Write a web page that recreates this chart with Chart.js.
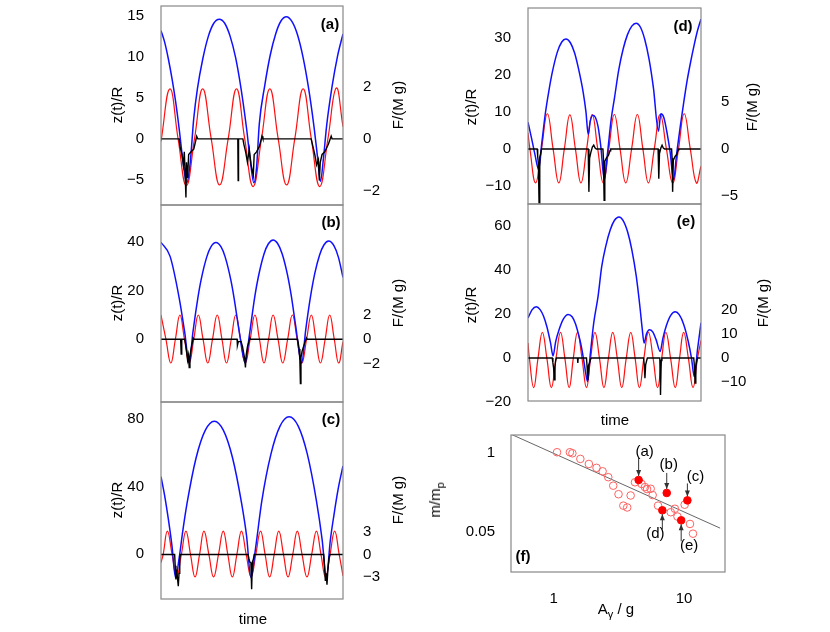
<!DOCTYPE html>
<html><head><meta charset="utf-8">
<script src="https://cdn.jsdelivr.net/npm/chart.js@4/dist/chart.umd.min.js"></script>
<style>
body{margin:0;background:#fff;width:830px;height:632px;overflow:hidden;position:relative;font-family:"Liberation Sans",Arial,sans-serif;}
canvas{position:absolute;}
.lbl{position:absolute;font-size:15px;color:#000;white-space:nowrap;transform:translate(-50%,-50%);}
.rot{transform:translate(-50%,-50%) rotate(-90deg);}
.pl{position:absolute;font-size:15px;font-weight:bold;transform:translate(-50%,-50%);}
</style></head><body>
<script>
// ---------- DATA (x = time in % of window) ----------
const aRed=[[0,-0.3],[4.9,6.1],[9.4,0],[13.9,-5.7],[18.4,0],[22.9,6.1],[27.6,0],[32.2,-5.6],[36.9,0],[41.5,6.1],[46,0],[50.6,-5.8],[55.2,0],[59.8,6.1],[64.4,0],[69,-5.6],[73.5,0],[78.1,6.1],[82.6,0],[87.2,-5.8],[91.7,0],[96.3,6.2],[100,1.5]];
const aBlue=[[0,13.2],[2,11.8],[4,9.8],[6,7.4],[8,4.6],[10,1.2],[12,-2.6],[14.1,-5.35],[16,-3],[18,2.5],[20,6.1],[23,9.8],[26,12.5],[29,14.1],[32,14.6],[35,14.1],[38,12.5],[41,9.9],[44,6.1],[47,1.3],[49,-2.5],[51,-5.35],[52.5,-3.5],[54,1.8],[57,6.5],[60,10.2],[63,12.8],[66,14.4],[68.9,14.9],[72,14.3],[75,12.7],[78,10],[81,6.3],[84,1.6],[86,-2.2],[87.6,-5.2],[89.2,-2.5],[91,1.6],[94,6.4],[97,10.1],[100,12.8]];
const aForce=[[0,0],[10,0],[10.5,-0.3],[11.5,-0.6],[12.3,-1.0],[12.8,-0.5],[13.3,-1.4],[13.7,-2.25],[14,-0.9],[14.6,-1.5],[15.2,-0.6],[16.5,-0.5],[18,-0.4],[19,-0.1],[19.6,0.1],[20.2,0],[42.2,0],[42.4,-1.6],[42.6,0],[45,0],[45.5,-0.2],[46.5,-0.5],[47.5,-0.9],[48.5,-0.4],[49.5,-1.0],[50.7,-1.4],[51.2,-0.6],[52.5,-0.5],[54,-0.3],[55.5,0.1],[56,0],[82.5,0],[83.5,-0.3],[84.5,-0.6],[85.5,-1.0],[86.5,-0.8],[87,-1.6],[87.5,-0.9],[88.5,-0.6],[90,-0.5],[92,-0.2],[93.5,0.1],[94,0],[100,0]];

const bRed=[[0,10],[2.7,0],[5.4,-9.8],[7.9,0],[10.4,10],[12.9,0],[15.5,-9.8],[18,0],[20.5,10],[23.1,0],[25.7,-9.8],[28.3,0],[30.9,10],[33.5,0],[36,-9.8],[38.6,0],[41.1,10],[43.7,0],[46.3,-9.8],[49,0],[51.6,10],[54.1,0],[56.6,-9.8],[59.1,0],[61.6,10],[64.3,0],[66.9,-9.8],[69.6,0],[72.2,10],[74.8,0],[77.4,-9.8],[80,0],[82.6,10],[85.1,0],[87.6,-9.8],[90.2,0],[92.7,10],[95.2,0],[97.6,-9.8],[100,-1]];
const bBlue=[[0,40],[5,34.2],[10,17],[13,3],[15.5,-9.8],[17.5,2.6],[20.2,16.8],[22,24.4],[25.2,34.1],[27.5,38.2],[30.2,39.9],[33,38.1],[35.2,34.1],[38.5,24],[40.2,16.8],[43,3],[46.3,-9.8],[48.5,1.4],[51.6,17.9],[53.5,25.8],[56.6,35.2],[59,39.4],[61.6,41],[64,39.6],[66.6,35.2],[69.5,26.6],[71.6,17.9],[74,5.5],[77.3,-9.8],[79.5,3.8],[82.1,17.4],[84.5,27.2],[87.1,34.7],[89.5,38.9],[92.1,40.5],[95,38.6],[97.5,33.8],[100,25.5]];
const bForce=[[0,0],[10.8,0],[11.1,-1.2],[11.4,0],[13,0],[13.5,-0.4],[14,-0.9],[14.6,-1.7],[15.1,-1.3],[15.5,-2.3],[15.9,-1.4],[16.5,-0.8],[17.2,-0.3],[17.7,0.1],[18.2,0],[41.8,0],[42,-0.5],[42.5,-0.2],[44,-0.2],[44.8,-0.6],[45.5,-1.2],[46,-1.6],[46.4,-2.3],[46.8,-1.3],[47.5,-0.6],[48.3,-0.2],[48.8,0.1],[49.2,0],[75,0],[75.4,-0.3],[75.9,-0.8],[76.3,-1.7],[76.6,-3.6],[76.9,-1.5],[77.5,-1.0],[78.3,-0.6],[79.2,-0.2],[79.9,0.1],[80.3,0],[100,0]];

const cRed=[[0,-4.9],[1.2,0],[3.5,13.7],[6.1,0],[8.6,-13.3],[11.2,0],[13.7,13.7],[16.2,0],[18.7,-13.3],[21.2,0],[23.6,13.7],[26.3,0],[28.9,-13.3],[31.6,0],[34.2,13.7],[36.7,0],[39.2,-13.3],[41.7,0],[44.2,13.7],[46.8,0],[49.5,-13.3],[52.1,0],[54.7,13.7],[57.2,0],[59.7,-13.3],[62.2,0],[64.7,13.7],[67.3,0],[69.8,-13.3],[72.4,0],[74.9,13.7],[77.5,0],[80.2,-13.3],[82.8,0],[85.4,13.7],[87.9,0],[90.4,-13.3],[92.9,0],[95.4,13.7],[97.9,0],[100,-12.7]];
const cBlue=[[0,45.7],[2,34.6],[4,21],[6,5.3],[8,-13.7],[10,-2],[12,14],[14.3,30],[19.3,56.9],[24.3,73],[29.3,78.4],[34.3,73],[39.3,56.9],[44.3,30],[47,11],[49.4,-13.7],[52,4],[55.4,31.5],[60.4,59],[65.4,75.5],[70.4,81],[75.4,75.5],[80.4,59],[85.4,31.5],[88.5,9],[90.9,-13.7],[93,8],[95,23],[97.5,39.4],[100,52]];
const cForce=[[0,0],[7.5,0],[7.8,-1.5],[8.2,-3.3],[8.6,-2.0],[9.0,-3.0],[9.5,-4.2],[9.9,-2.5],[10.3,-0.8],[10.6,0],[47.8,0],[48.2,-0.5],[48.8,-1.0],[49.4,-1.1],[49.8,-4.6],[50.2,-1.0],[50.8,-0.6],[51.2,0],[89.4,0],[89.8,-1.5],[90.3,-3.5],[90.8,-2.5],[91.2,-4.0],[91.7,-2.0],[92.3,-0.5],[92.8,0],[100,0]];

const dRed=[[0,4.3],[1.1,0],[4.4,-9.2],[7.8,0],[11.2,9.5],[14.5,0],[17.8,-9.2],[21,0],[24.2,9.2],[27.4,0],[30.6,-9.2],[33.9,0],[37.1,9.3],[40.3,0],[43.5,-9.2],[46.7,0],[49.9,9.3],[53.2,0],[56.5,-9.2],[59.9,0],[63.2,9.3],[66.4,0],[69.6,-9.2],[73,0],[76.4,9.3],[80,0],[83.6,-9.2],[87,0],[90.3,9.5],[93.8,0],[97.3,-9.2],[100,-4.7]];
const dBlue=[[0,7.2],[2,3],[4,-1.5],[6.2,-5.6],[8,1.7],[10,9.5],[12,15.5],[14,20.6],[16.9,26.1],[19.5,28.9],[21.9,29.7],[24.5,28.7],[26.9,26],[29,22.1],[31.9,15.3],[33.5,10],[34.8,3.9],[36,7.5],[37.5,9.1],[39,8.5],[40.5,6],[42,1],[44.1,-8.3],[46,-1],[48,7.7],[50,13.8],[52.5,21.5],[55,27],[57.5,30.9],[60,33.2],[62.5,34],[65,32.9],[67.5,29.6],[70,24.2],[72.5,16.5],[75.4,4.8],[76.8,9.5],[78.5,8.5],[80.5,4],[82.2,-1],[84.1,-8.3],[86,-1],[88,6],[90,12.5],[92,18.5],[94,23.5],[96,28],[98,32],[100,35.1]];
const dForce=[[0,0],[5.3,0],[5.6,-0.8],[6.0,-1.5],[6.4,-5.9],[6.8,-0.9],[7.3,-0.5],[7.8,0],[34.8,0],[35.2,-4.6],[35.6,-1.0],[36.3,-0.4],[37.2,0.2],[38,0.4],[38.8,0.1],[39.5,0],[43.3,0],[43.6,-1],[44,-5.5],[44.4,-1.3],[45.5,-0.9],[46.5,-0.7],[47.4,-0.2],[47.8,0],[75.2,0],[75.6,-3.2],[76,-0.5],[76.8,0.1],[77.5,0.4],[78.2,0.1],[79,0],[83,0],[83.3,-1],[83.6,-4.6],[84,-1.2],[85,-0.8],[86,-0.6],[86.8,-0.1],[87.2,0],[100,0]];

const eRed=[[0,6.8],[0.8,0],[3.3,-13.4],[5.8,0],[8.3,11.7],[10.9,0],[13.5,-13.4],[16.2,0],[18.8,11.7],[21.3,0],[23.8,-13.4],[26.2,0],[28.6,11.7],[31.2,0],[33.8,-13.4],[36.2,0],[38.7,11.7],[41.3,0],[43.9,-13.4],[46.5,0],[49,11.7],[51.6,0],[54.2,-13.4],[56.8,0],[59.4,11.7],[61.9,0],[64.4,-13.4],[67,0],[69.6,11.7],[72.3,0],[74.9,-13.4],[77.3,0],[79.7,11.7],[82.4,0],[85.1,-13.4],[87.6,0],[90,11.7],[92.7,0],[95.4,-13.4],[98,0],[100,8]];
const eBlue=[[0,18.2],[2.4,22],[4.8,23.3],[7,22],[9,19],[11,14],[13,7],[14.5,1],[16,7.5],[18,13],[20.5,17.8],[23.2,19.8],[25.5,18.8],[27.5,15.5],[29,11.4],[30.5,6.5],[32,0],[33.2,-6],[34.4,-10.6],[36,1.7],[38,16],[40.5,28],[42.6,41.5],[45,51],[47.6,58.4],[50,62.6],[52.6,64.1],[55,62.5],[57.6,57.3],[60,49.3],[62.6,37.1],[64.6,24],[66,13.5],[67.1,6.8],[68.5,11],[70.2,12.9],[72,12],[74,8.5],[76.4,3],[78,9.1],[80,14.8],[82.5,19.4],[85.1,21],[87.5,19.6],[90,15.3],[92.5,8],[94.5,0],[96.1,-8.4],[98,4],[100,16]];
const eForce=[[0,0],[14,0],[14.4,-2],[14.8,-4.1],[15.2,-9],[15.6,-3.5],[16,-1],[16.4,0],[28.6,0],[28.8,-2],[29.0,0],[33.8,0],[34.2,-4],[34.6,-9],[35,-3],[35.6,-2],[36.2,-0.5],[36.6,0],[66.8,0],[67.2,-2.8],[67.6,-8.3],[68,-2.8],[68.6,-1],[69,0],[76.2,0],[76.6,-15.2],[77,-1],[77.4,0],[95.8,0],[96.2,-3.4],[96.6,-10.3],[97,-3.4],[97.6,-1],[98,0],[100,0]];

const aLeftTicks=[-5,0,5,10,15], aRightTicks=[-2,0,2];
const bLeftTicks=[0,20,40], bRightTicks=[-2,0,2];
const cLeftTicks=[0,40,80], cRightTicks=[-3,0,3];
const dLeftTicks=[-10,0,10,20,30], dRightTicks=[-5,0,5];
const eLeftTicks=[-20,0,20,40,60], eRightTicks=[-10,0,10,20];

// panel f
const fOpenX=[1.06,1.33,1.39,1.60,1.86,2.13,2.37,2.62,2.86,3.14,3.42,3.66,3.89,4.20,4.72,5.01,5.2,5.54,5.74,6.31,7.9,8.5,8.9,10.1,11.1,11.7];
const fOpenY=[1.03,1.03,0.99,0.80,0.66,0.57,0.50,0.40,0.29,0.21,0.136,0.127,0.20,0.33,0.31,0.275,0.255,0.258,0.203,0.136,0.106,0.121,0.090,0.141,0.068,0.047];
const fFullX=[4.48,7.36,10.6,6.81,9.5];
const fFullY=[0.36,0.22,0.166,0.114,0.078];
const fFullNames=["(a)","(b)","(c)","(d)","(e)"];
const fFitX=[0.48,18.9], fFitY=[2.0,0.058];
const fXTicks=[1,10], fYTicks=[0.05,1];

// ---------- helpers ----------
const FONT='"Liberation Sans", Arial, sans-serif';
const pts=a=>a.map(p=>({x:p[0],y:p[1]}));
const fmt=v=>String(v).replace('-','\u2212');
const frame={id:'frame',afterDatasetsDraw(c){const a=c.chartArea,x=c.ctx;x.save();x.strokeStyle='#888';x.lineWidth=1.2;x.strokeRect(a.left,a.top,a.right-a.left,a.bottom-a.top);x.restore();}};
const noPad=s=>{s.paddingTop=0;s.paddingBottom=0;s.paddingLeft=0;s.paddingRight=0;};

function addLabel(txt,x,y,cls){const d=document.createElement('div');d.className=cls||'lbl';d.innerHTML=txt;d.style.left=x+'px';d.style.top=y+'px';document.body.appendChild(d);}

function timePanel(o){
  const yW=o.yW, y2W=o.y2W, pad=12;
  const cv=document.createElement('canvas');
  const W=yW+o.pw+y2W, H=o.ph+2*pad;
  cv.style.left=(o.pl-yW)+'px'; cv.style.top=(o.pt-pad)+'px';
  cv.style.width=W+'px'; cv.style.height=H+'px'; cv.width=W; cv.height=H;
  document.body.appendChild(cv);
  const tk=arr=>s=>{s.ticks=arr.map(v=>({value:v}));};
  new Chart(cv,{type:'line',data:{datasets:[
    {data:pts(o.force),yAxisID:'y2',borderColor:'#000',borderWidth:1.4,pointRadius:0,tension:0},
    {data:pts(o.blue),yAxisID:'y',borderColor:'#1010ff',borderWidth:1.5,pointRadius:0,cubicInterpolationMode:'monotone'},
    {data:pts(o.red),yAxisID:'y',borderColor:'#ff1010',borderWidth:1.2,pointRadius:0,tension:0.45}
  ]},options:{responsive:false,animation:false,devicePixelRatio:1,
    layout:{padding:{top:pad,bottom:pad,left:0,right:0}},
    plugins:{legend:{display:false},tooltip:{enabled:false}},
    scales:{
      x:{type:'linear',display:false,min:0,max:100},
      y:{position:'left',min:o.ymin,max:o.ymax,afterBuildTicks:tk(o.lt),afterFit:s=>{s.width=yW;noPad(s);},
         grid:{display:false},border:{display:false},
         ticks:{padding:9,color:'#000',font:{family:FONT,size:15},callback:v=>fmt(v)}},
      y2:{position:'right',min:o.y2min,max:o.y2max,afterBuildTicks:tk(o.rt),afterFit:s=>{s.width=y2W;noPad(s);},
         grid:{display:false},border:{display:false},
         ticks:{padding:12,color:'#000',font:{family:FONT,size:15},callback:v=>fmt(v)}}
    }},plugins:[frame]});
}

// left column
timePanel({pl:161,pw:182,pt:6,ph:199,yW:55,y2W:60,red:aRed,blue:aBlue,force:aForce,ymin:-8.05,ymax:16.2,y2min:-2.54,y2max:5.1,lt:aLeftTicks,rt:aRightTicks});
timePanel({pl:161,pw:182,pt:205,ph:197,yW:55,y2W:60,red:bRed,blue:bBlue,force:bForce,ymin:-25.9,ymax:55.4,y2min:-5.1,y2max:10.9,lt:bLeftTicks,rt:bRightTicks});
timePanel({pl:161,pw:182,pt:402,ph:197,yW:55,y2W:60,red:cRed,blue:cBlue,force:cForce,ymin:-26.3,ymax:89.7,y2min:-5.9,y2max:20.2,lt:cLeftTicks,rt:cRightTicks});
// right column
timePanel({pl:528,pw:173,pt:8,ph:196,yW:50,y2W:70,red:dRed,blue:dBlue,force:dForce,ymin:-14.9,ymax:38.1,y2min:-5.9,y2max:15.1,lt:dLeftTicks,rt:dRightTicks});
timePanel({pl:528,pw:173,pt:204,ph:197,yW:50,y2W:70,red:eRed,blue:eBlue,force:eForce,ymin:-19.5,ymax:70,y2min:-17.7,y2max:63.4,lt:eLeftTicks,rt:eRightTicks});

// labels
[105,303,500].forEach(c=>{addLabel('z(t)/R',116,c,'lbl rot');addLabel('F/(M g)',397,c,'lbl rot');});
addLabel('z(t)/R',470,107,'lbl rot');addLabel('F/(M g)',751,107,'lbl rot');
addLabel('z(t)/R',470,305,'lbl rot');addLabel('F/(M g)',762,303,'lbl rot');
addLabel('time',253,618);addLabel('time',615,419);
addLabel('(a)',330,23,'pl');addLabel('(b)',331,221,'pl');addLabel('(c)',331,418,'pl');
addLabel('(d)',683,25,'pl');addLabel('(e)',686,220,'pl');

// panel f
(function(){
  const pl=511,pt=435,pw=214,ph=137,yW=71,xH=33;
  const cv=document.createElement('canvas');
  const W=yW+pw+15,H=ph+xH+10;
  cv.style.left=(pl-yW)+'px';cv.style.top=(pt-10)+'px';cv.style.width=W+'px';cv.style.height=H+'px';cv.width=W;cv.height=H;
  document.body.appendChild(cv);
  const offs=[[6,-28,-22,-4],[2,-28,-20,-4],[8,-24,-17,-4],[-7,24,19,4],[8,26,21,4]];
  const ann={id:'ann',afterDatasetsDraw(c){
    const x=c.ctx,sx=c.scales.x,sy=c.scales.y;x.save();
    x.strokeStyle='#333';x.fillStyle='#333';x.lineWidth=1;
    fFullX.forEach((v,i)=>{
      const px=sx.getPixelForValue(v),py=sy.getPixelForValue(fFullY[i]),o=offs[i];
      const y0=py+o[2],y1=py+o[3];
      x.beginPath();x.moveTo(px,y0);x.lineTo(px,y1);x.stroke();
      const d=Math.sign(y1-y0);
      x.beginPath();x.moveTo(px,y1);x.lineTo(px-2.5,y1-6*d);x.lineTo(px+2.5,y1-6*d);x.closePath();x.fill();
      x.fillStyle='#000';x.font='15px '+FONT;x.textAlign='center';x.textBaseline='middle';
      x.fillText(fFullNames[i],px+o[0],py+o[1]);x.fillStyle='#333';
    });
    x.font='bold 15px '+FONT;x.fillStyle='#000';x.textAlign='center';x.textBaseline='middle';
    x.fillText('(f)',c.chartArea.left+12,c.chartArea.bottom-15);
    x.restore();}};
  new Chart(cv,{type:'scatter',data:{datasets:[
    {data:fFullX.map((v,i)=>({x:v,y:fFullY[i]})),pointRadius:3.8,backgroundColor:'#ff0000',borderColor:'#ff0000',borderWidth:1},
    {data:fOpenX.map((v,i)=>({x:v,y:fOpenY[i]})),pointRadius:3.8,backgroundColor:'rgba(0,0,0,0)',borderColor:'#ff6060',borderWidth:1},
    {data:fFitX.map((v,i)=>({x:v,y:fFitY[i]})),showLine:true,pointRadius:0,borderColor:'#666',borderWidth:1}
  ]},options:{responsive:false,animation:false,devicePixelRatio:1,
    layout:{padding:{top:10,right:15,left:0,bottom:0}},
    plugins:{legend:{display:false},tooltip:{enabled:false}},
    scales:{
      x:{type:'logarithmic',min:0.47,max:20.6,afterBuildTicks:s=>{s.ticks=fXTicks.map(v=>({value:v}));},afterFit:s=>{s.height=xH;noPad(s);},
        grid:{display:false},border:{display:false},ticks:{padding:10,color:'#000',font:{family:FONT,size:15},callback:v=>String(v)}},
      y:{type:'logarithmic',min:0.011,max:1.98,afterBuildTicks:s=>{s.ticks=fYTicks.map(v=>({value:v}));},afterFit:s=>{s.width=yW;noPad(s);},
        grid:{display:false},border:{display:false},ticks:{padding:8,color:'#000',font:{family:FONT,size:15},callback:v=>String(v)}}
    }},plugins:[frame,ann]});
})();
addLabel('m/m<sub style="font-size:11px">p</sub>',436,500,'lbl rot');
addLabel('A<sub style="font-size:11px">γ</sub> / g',616,610);
</script>
</body></html>
